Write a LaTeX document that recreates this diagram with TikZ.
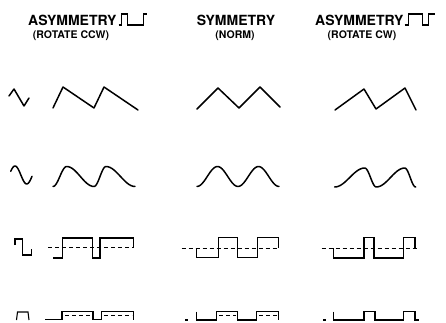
\documentclass[tikz,border=0pt]{standalone}
\usepackage{fontspec}
\setmainfont{TeX Gyre Heros}
\usetikzlibrary{calc}

\tikzset{
  head/.style={font=\fontsize{14}{16}\selectfont\bfseries, inner sep=0pt},
  sub/.style={font=\fontsize{10.5}{13}\selectfont\bfseries, inner sep=0pt},
  wave/.style={line width=1.5pt, line join=round, line cap=round},
  sqwave/.style={line width=1.1pt, line join=miter},
  zeroline/.style={line width=1pt, dash pattern=on 4pt off 3pt},
  hdsym/.style={line width=1.2pt, line join=miter}
}

\begin{document}
\begin{tikzpicture}[x=1pt,y=-1pt]
\useasboundingbox (0,0) rectangle (446,323);

% column headings
\node[head,anchor=west] (asymL) at (28,20) {ASYMMETRY};
\node[head] (sym) at (236,20) {SYMMETRY};
\node[head,anchor=west] (asymR) at (315,20) {ASYMMETRY};
\node[sub] (ccw) at (71,36) {(ROTATE CCW)};
\node[sub] (norm) at (235,36) {(NORM)};
\node[sub] (cw) at (362,36) {(ROTATE CW)};
\begin{scope}[shift={(asymL.east)}]
  \draw[hdsym] (2,5) -- (5,5) -- (5,-6) -- (11,-6) -- (11,5) -- (27,5) -- (27,-6) -- (30,-6);
\end{scope}
\begin{scope}[shift={(asymR.east)}]
  \draw[hdsym] (1,5) -- (5,5) -- (5,-6) -- (19,-6) -- (19,5) -- (25,5) -- (25,-6) -- (31,-6);
\end{scope}

% triangle
\draw[wave] (9,96) -- (14,89) -- (24,106) -- (29,98);
\draw[wave] (53,108) -- (63,87) -- (94,108) -- (104,87) -- (138,110);
\draw[wave] (197,109) -- (218,88) -- (239,108) -- (260,87) -- (280,107);
\draw[wave] (335,110) -- (364,89) -- (376,109) -- (405,88) -- (416,110);

% sine
\draw[wave] plot[domain=10.7:32,samples=30] (\x,{175-9*cos(15.385*(\x-15))});
\draw[wave] plot[domain=0:1,samples=16] ({53+13.7*\x},{176.5+10*cos(180*\x)})
  -- plot[domain=0:1,samples=16] ({66.7+27.3*\x},{176.5-10*cos(180*\x)})
  -- plot[domain=0:1,samples=16] ({94+12*\x},{176.5+10*cos(180*\x)})
  -- plot[domain=0:1,samples=16] ({106+29*\x},{176.5-10*cos(180*\x)});
\draw[wave] plot[domain=0:2,samples=50] ({197+41*\x},{176.5+10*cos(360*\x)});
\draw[wave] plot[domain=0:1,samples=16] ({334.7+30*\x},{177.5+9.5*cos(180*\x)})
  -- plot[domain=0:1,samples=16] ({364.7+11.6*\x},{177.5-9.5*cos(180*\x)})
  -- plot[domain=0:1,samples=16] ({376.3+28.4*\x},{177.5+9.5*cos(180*\x)})
  -- plot[domain=0:1,samples=16] ({404.7+11*\x},{177.5-9.5*cos(180*\x)});

% square
\draw[sqwave] (15,245) -- (15,239) -- (22.7,239) -- (22.7,255) -- (31.7,255) -- (31.7,249);
\draw[zeroline] (48,247.5) -- (134,247.5);
\draw[sqwave] (53,258) -- (62.3,258) -- (62.3,238) -- (92.7,238) -- (92.7,258) -- (100,258)
  -- (100,238) -- (133.3,238) -- (133.3,247.5);
\draw[zeroline] (181.7,248) -- (278,248);
\draw[sqwave] (196.7,248) -- (196.7,257.7) -- (218.3,257.7) -- (218.3,237.3) -- (237.3,237.3)
  -- (237.3,257.7) -- (257.3,257.7) -- (257.3,237.3) -- (278.3,237.3) -- (278.3,248);
\draw[zeroline] (321.7,248) -- (419,248);
\draw[sqwave] (333.3,248) -- (333.3,258) -- (364,258) -- (364,237.3) -- (374,237.3) -- (374,258)
  -- (403.3,258) -- (403.3,237.3) -- (415,237.3) -- (415,248);

% pulse
\draw[sqwave] (16.5,320) -- (17.5,312) -- (28,312) -- (29,320);
\draw[sqwave] (45,319.5) -- (62,319.5) -- (62,311.5) -- (93,311.5) -- (93,319.5) -- (101.5,319.5)
  -- (101.5,311.5) -- (133.3,311.5) -- (133.3,319.5);
\draw[zeroline] (65,315.5) -- (91,315.5) (104,315.5) -- (132,315.5);
\draw[sqwave] (185,320) -- (188,320);
\draw[sqwave] (196.7,311.5) -- (196.7,320) -- (216.7,320) -- (216.7,311.5) -- (237.3,311.5)
  -- (237.3,320) -- (256.7,320) -- (256.7,311.5) -- (278.3,311.5) -- (278.3,320);
\draw[zeroline] (219,315.5) -- (236,315.5) (259,315.5) -- (277,315.5);
\draw[sqwave] (323,320) -- (326,320);
\draw[sqwave] (333.3,311.5) -- (333.3,320) -- (364,320) -- (364,311.5) -- (375,311.5) -- (375,320)
  -- (403.3,320) -- (403.3,311.5) -- (415,311.5) -- (415,320) -- (419,320);
\end{tikzpicture}
\end{document}
